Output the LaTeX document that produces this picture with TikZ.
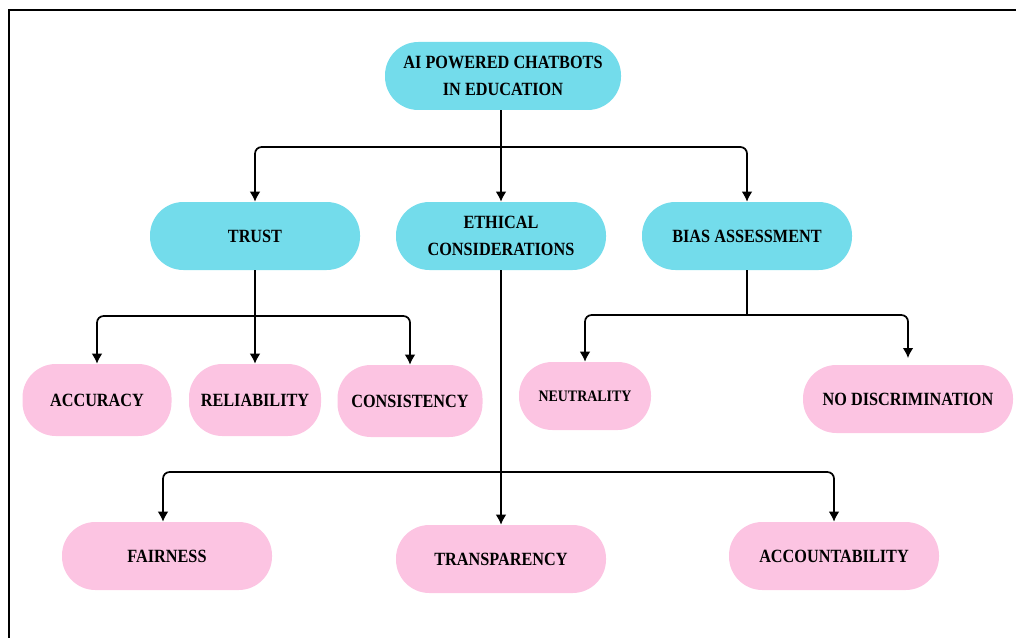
\documentclass[tikz,border=0pt]{standalone}
\usepackage{fontspec}
\setmainfont{Liberation Serif}[FakeStretch=0.87]
\usetikzlibrary{arrows.meta}

\definecolor{topicblue}{RGB}{115,220,235}
\definecolor{itempink}{RGB}{252,196,226}

\begin{document}
\begin{tikzpicture}[
  x=0.75pt,
  y=-0.75pt,
  node distance=184.5pt
]

  \tikzstyle{topicnode}=[rectangle,fill=topicblue,rounded corners=25pt,minimum height=51pt,minimum width=157.5pt,inner sep=0pt,align=center,font=\bfseries\fontsize{14}{20}\selectfont]
  \tikzstyle{itemnode}=[rectangle,fill=itempink,rounded corners=25pt,minimum height=51pt,minimum width=157.5pt,inner sep=0pt,align=center,font=\bfseries\fontsize{14}{20}\selectfont]

  \tikzstyle{pointer}=[draw,->,>={Latex[length=7.5pt,width=8pt]},line width=1.3pt,rounded corners=5pt]

  \useasboundingbox (0,0) rectangle (1016,638);
  \draw[line width=1.6pt] (1016,10) -- (9,10) -- (9,638);

  % nodes
  \node[topicnode,minimum width=177pt] (root) at (503,76) {AI POWERED CHATBOTS\\IN EDUCATION};

  \node[topicnode] (trust) at (255,236) {TRUST};
  \node[topicnode] (ethical) [right of=trust] {ETHICAL\\CONSIDERATIONS};
  \node[topicnode] (bias) [right of=ethical] {BIAS ASSESSMENT};

  \node[itemnode,minimum width=111.75pt,minimum height=54pt] (accuracy) at (97,400) {ACCURACY};
  \node[itemnode,minimum width=99pt,minimum height=54pt,node distance=123pt] (reliability) [below of=trust] {RELIABILITY};
  \node[itemnode,minimum width=108.75pt,minimum height=54pt] (consistency) at (410,401) {CONSISTENCY};

  \node[itemnode,minimum width=99pt,font=\bfseries\fontsize{12}{16}\selectfont] (neutrality) at (585,396) {NEUTRALITY};
  \node[itemnode] (nodiscrim) at (908,399) {NO DISCRIMINATION};

  \node[itemnode] (fairness) at (167,556) {FAIRNESS};
  \node[itemnode,node distance=242.25pt] (transparency) [below of=ethical] {TRANSPARENCY};
  \node[itemnode] (accountability) at (834,556) {ACCOUNTABILITY};

  \coordinate (rootjoin) at (501,147);
  \coordinate (trustjoin) at (255,316);
  \coordinate (biasjoin) at (747,315);
  \coordinate (ethicaljoin) at (501,472);

  % pointers
  \draw[pointer] (root.south -| ethical) -- (ethical);
  \draw[pointer] (rootjoin) -| (trust);
  \draw[pointer] (rootjoin) -| (bias);

  \draw[pointer] (trust) -- (reliability);
  \draw[pointer] (trustjoin) -| (accuracy);
  \draw[pointer] (trustjoin) -| (consistency);

  \draw[pointer,-] (bias) -- (biasjoin);
  \draw[pointer] (biasjoin) -| (neutrality);
  \draw[pointer,shorten >=5pt] (biasjoin) -| (nodiscrim);

  \draw[pointer] (ethical) -- (transparency);
  \draw[pointer] (ethicaljoin) -| ([xshift=-3pt]fairness.north);
  \draw[pointer] (ethicaljoin) -| (accountability);

\end{tikzpicture}
\end{document}
